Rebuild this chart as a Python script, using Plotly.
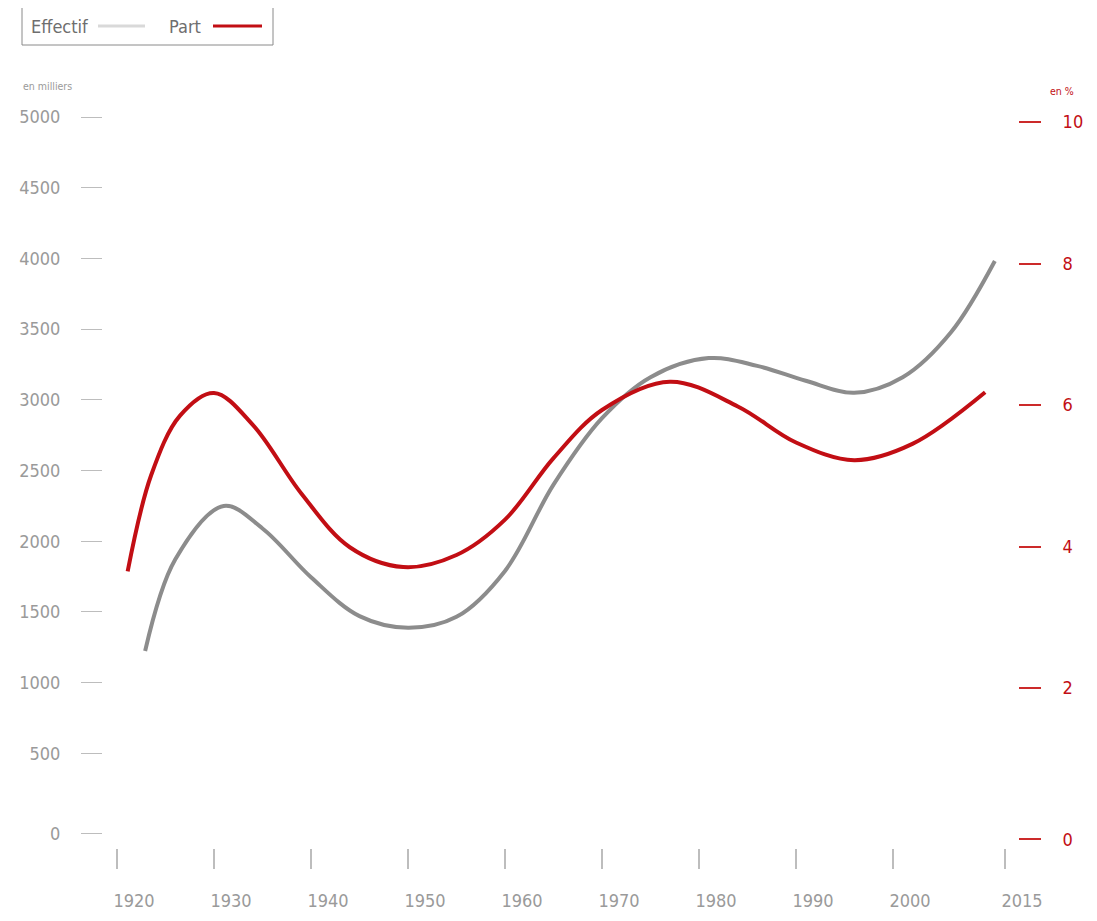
import plotly.graph_objects as go

# ---- data ----
eff_years = [1922.9, 1926, 1931, 1935, 1940, 1945, 1950, 1955, 1960, 1965,
             1970, 1975, 1981, 1986, 1991, 1996, 2001, 2006, 2010.5]
eff_values = [1224, 1870, 2249, 2090, 1745, 1470, 1388, 1465, 1790, 2400,
              2870, 3160, 3295, 3240, 3135, 3050, 3160, 3480, 3982]

part_years = [1921.1, 1923.5, 1926.5, 1930, 1934, 1939, 1944, 1949.5, 1955, 1960,
              1965, 1970, 1977, 1984, 1990, 1996, 2002, 2009.5]
part_values = [3.65, 5.00, 5.85, 6.17, 5.72, 4.75, 3.99, 3.71, 3.88, 4.38,
               5.25, 5.93, 6.33, 5.98, 5.47, 5.22, 5.45, 6.18]

x_tickvals = [1920, 1930, 1940, 1950, 1960, 1970, 1980, 1990, 2000, 2011.55]
x_ticktext = ["1920", "1930", "1940", "1950", "1960", "1970", "1980", "1990", "2000", "2015"]
left_tickvals = [-68.6, 500, 1000, 1500, 2000, 2500, 3000, 3500, 4000, 4500, 5000]
left_ticktext = ["0", "500", "1000", "1500", "2000", "2500", "3000", "3500", "4000", "4500", "5000"]
right_tickvals = [-0.139, 2, 4, 6, 8, 10]
right_ticktext = ["0", "2", "4", "6", "8", "10"]

GRAY_LINE = "#8c8c8c"
RED = "#c20e14"
LABEL_GRAY = "#9a9a9a"
FONT = "DejaVu Sans Condensed, Liberation Sans Narrow, Arial Narrow, sans-serif"

OFF = 8  # page body margin
W, H = 1097 - 2 * OFF, 921 - 2 * OFF
# plot area in reference-screen pixels
L0, R0, T0, B0 = 103, 1018, 100, 848
L, R, T, B = L0 - OFF, R0 - OFF, T0 - OFF, B0 - OFF


def px(x):
    return (x - L0) / (R0 - L0)


def py(y):
    return (B0 - y) / (B0 - T0)


fig = go.Figure()
fig.add_trace(go.Scatter(x=eff_years, y=eff_values, mode="lines", name="Effectif",
                         line=dict(color=GRAY_LINE, width=4, shape="spline", smoothing=1.0),
                         yaxis="y", hoverinfo="x+y"))
fig.add_trace(go.Scatter(x=part_years, y=part_values, mode="lines", name="Part",
                         line=dict(color=RED, width=4, shape="spline", smoothing=1.0),
                         yaxis="y2", hoverinfo="x+y"))

fig.update_layout(
    width=W, height=H, autosize=False,
    margin=dict(l=L, r=W - R, t=T, b=H - B, pad=0, autoexpand=False),
    paper_bgcolor="white", plot_bgcolor="white",
    showlegend=False,
    font=dict(family=FONT, color=LABEL_GRAY),
    xaxis=dict(range=[1918.557, 2012.887], tickmode="array", tickvals=x_tickvals,
               ticktext=x_ticktext, showgrid=False, zeroline=False, showline=False,
               automargin=False,
               ticks="outside", ticklen=20, tickwidth=1.5, tickcolor="#bdbdbd",
               tickfont=dict(size=18, color=LABEL_GRAY, family=FONT),
               ticklabelshift=17, ticklabelstandoff=16),
    yaxis=dict(range=[-169.7, 5120.2], tickmode="array", tickvals=left_tickvals,
               ticktext=left_ticktext, showgrid=False, zeroline=False, showline=False,
               automargin=False,
               ticks="outside", ticklen=21, tickwidth=1.2, tickcolor="#bdbdbd",
               tickfont=dict(size=18, color=LABEL_GRAY, family=FONT),
               ticklabelstandoff=17),
    yaxis2=dict(range=[-0.261, 10.311], tickmode="array", tickvals=right_tickvals,
                ticktext=right_ticktext, overlaying="y", side="right",
                showgrid=False, zeroline=False, showline=False,
                automargin=False,
                ticks="outside", ticklen=22, tickwidth=1.5, tickcolor="#cc2a2a",
                tickfont=dict(size=18, color=RED, family=FONT),
                ticklabelstandoff=18),
)

# manual legend (text followed by line sample)
fig.add_shape(type="rect", xref="paper", yref="paper",
              x0=px(22), x1=px(273), y0=py(45), y1=py(7),
              line=dict(color="#8a8a8a", width=1), fillcolor="white")
fig.add_annotation(xref="paper", yref="paper", x=px(29), y=py(26), text="Effectif",
                   showarrow=False, xanchor="left", yanchor="middle",
                   font=dict(size=18, color="#6e6e6e", family=FONT))
fig.add_shape(type="line", xref="paper", yref="paper",
              x0=px(98), x1=px(145), y0=py(26), y1=py(26),
              line=dict(color="#d9d9d9", width=3))
fig.add_annotation(xref="paper", yref="paper", x=px(167), y=py(26), text="Part",
                   showarrow=False, xanchor="left", yanchor="middle",
                   font=dict(size=18, color="#6e6e6e", family=FONT))
fig.add_shape(type="line", xref="paper", yref="paper",
              x0=px(213), x1=px(262), y0=py(26), y1=py(26),
              line=dict(color=RED, width=3))

# axis unit notes
fig.add_annotation(xref="paper", yref="paper", x=px(21), y=py(86), text="en milliers",
                   showarrow=False, xanchor="left", yanchor="middle",
                   font=dict(size=10.5, color=LABEL_GRAY, family=FONT))
fig.add_annotation(xref="paper", yref="paper", x=px(1076), y=py(91), text="en %",
                   showarrow=False, xanchor="right", yanchor="middle",
                   font=dict(size=10.5, color=RED, family=FONT))

fig.write_html("out.html")
